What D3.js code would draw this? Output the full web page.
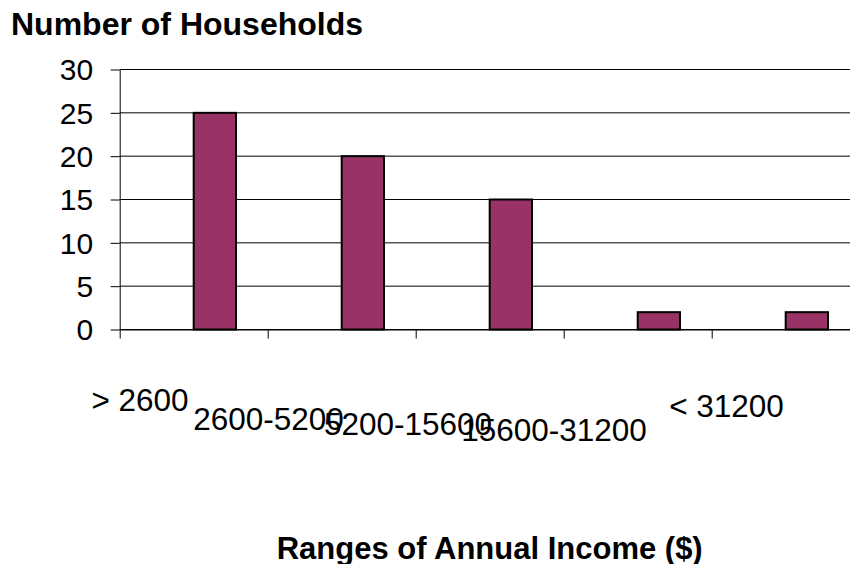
<!DOCTYPE html>
<html>
<head>
<meta charset="utf-8">
<script src="https://cdn.jsdelivr.net/npm/d3@7"></script>
<style>
  html, body { margin: 0; padding: 0; background: #fff; }
  svg { display: block; font-family: "Liberation Sans", Arial, sans-serif; }
</style>
</head>
<body>
<svg id="chart" width="850" height="564"></svg>
<script>
// Household counts by annual income range
const categories = ["> 2600", "2600-5200", "5200-15600", "15600-31200", "< 31200"];
const households = [25, 20, 15, 2, 2];
const yTicks = [0, 5, 10, 15, 20, 25, 30];
const yTitle = "Number of Households";
const xTitle = "Ranges of Annual Income ($)";

// Layout
const W = 850, H = 564;
const plot = { left: 119.7, right: 859.7, top: 69.5, bottom: 329.5 };
const tickFont = 30;
const catFont = 31.5;
// Staggered category labels: horizontal nudge from the band start and baseline
const labelDx = [20.3, 0.8, -7.7, -9.7, 14.8];
const labelBaseline = [410.5, 429.5, 435, 441, 416.5];

const svg = d3.select("#chart");
svg.append("rect").attr("width", W).attr("height", H).attr("fill", "#fff");

const x = d3.scaleBand().domain(categories).range([plot.left, plot.right]).padding(0);
// Two clustered slots per category (gap 150%); the data sits in the second slot
const slot = d3.scaleBand().domain([0, 1]).range([0, x.bandwidth()])
  .paddingInner(0).paddingOuter(0.75);
const y = d3.scaleLinear().domain([0, 30]).range([plot.bottom, plot.top]);

// Horizontal gridlines
svg.append("g").selectAll("line").data(yTicks).join("line")
  .attr("x1", plot.left).attr("x2", plot.right)
  .attr("y1", d => y(d)).attr("y2", d => y(d))
  .attr("stroke", "#000").attr("stroke-width", 1);

// Y axis
const yAxis = svg.append("g")
  .attr("transform", `translate(${plot.left},0)`)
  .call(d3.axisLeft(y).tickValues(yTicks).tickSize(9).tickSizeOuter(0).tickPadding(17.5));
yAxis.select(".domain").attr("stroke", "#000");
yAxis.selectAll(".tick line").attr("stroke", "#000");
yAxis.selectAll(".tick text")
  .attr("font-size", tickFont).attr("font-family", "Liberation Sans, Arial, sans-serif")
  .attr("fill", "#000").attr("dy", "0.34em");

// X axis: tick marks on category boundaries
const xEdge = d3.scaleLinear().domain([0, categories.length]).range([plot.left, plot.right]);
const xAxis = svg.append("g")
  .attr("transform", `translate(0,${plot.bottom})`)
  .call(d3.axisBottom(xEdge).tickValues(d3.range(categories.length + 1))
    .tickFormat("").tickSize(9).tickSizeOuter(0));
xAxis.select(".domain").attr("stroke", "#000");
xAxis.selectAll(".tick line").attr("stroke", "#000");

// Bars
svg.append("g").selectAll("rect").data(categories).join("rect")
  .attr("x", (c) => x(c) + slot(1))
  .attr("width", slot.bandwidth())
  .attr("y", (c, i) => y(households[i]))
  .attr("height", (c, i) => y(0) - y(households[i]))
  .attr("fill", "#993366")
  .attr("stroke", "#000")
  .attr("stroke-width", 2);

// Category labels
svg.append("g").selectAll("text").data(categories).join("text")
  .attr("x", (c, i) => x(c) + labelDx[i])
  .attr("y", (c, i) => labelBaseline[i])
  .attr("text-anchor", "middle")
  .attr("font-size", catFont)
  .attr("fill", "#000")
  .text(c => c);

// Axis titles
svg.append("text")
  .attr("x", 11).attr("y", 34.5)
  .attr("font-size", 32).attr("font-weight", "bold")
  .attr("fill", "#000")
  .text(yTitle);

svg.append("text")
  .attr("x", (plot.left + plot.right) / 2).attr("y", 559)
  .attr("text-anchor", "middle")
  .attr("font-size", 31).attr("font-weight", "bold")
  .attr("fill", "#000")
  .text(xTitle);
</script>
</body>
</html>
